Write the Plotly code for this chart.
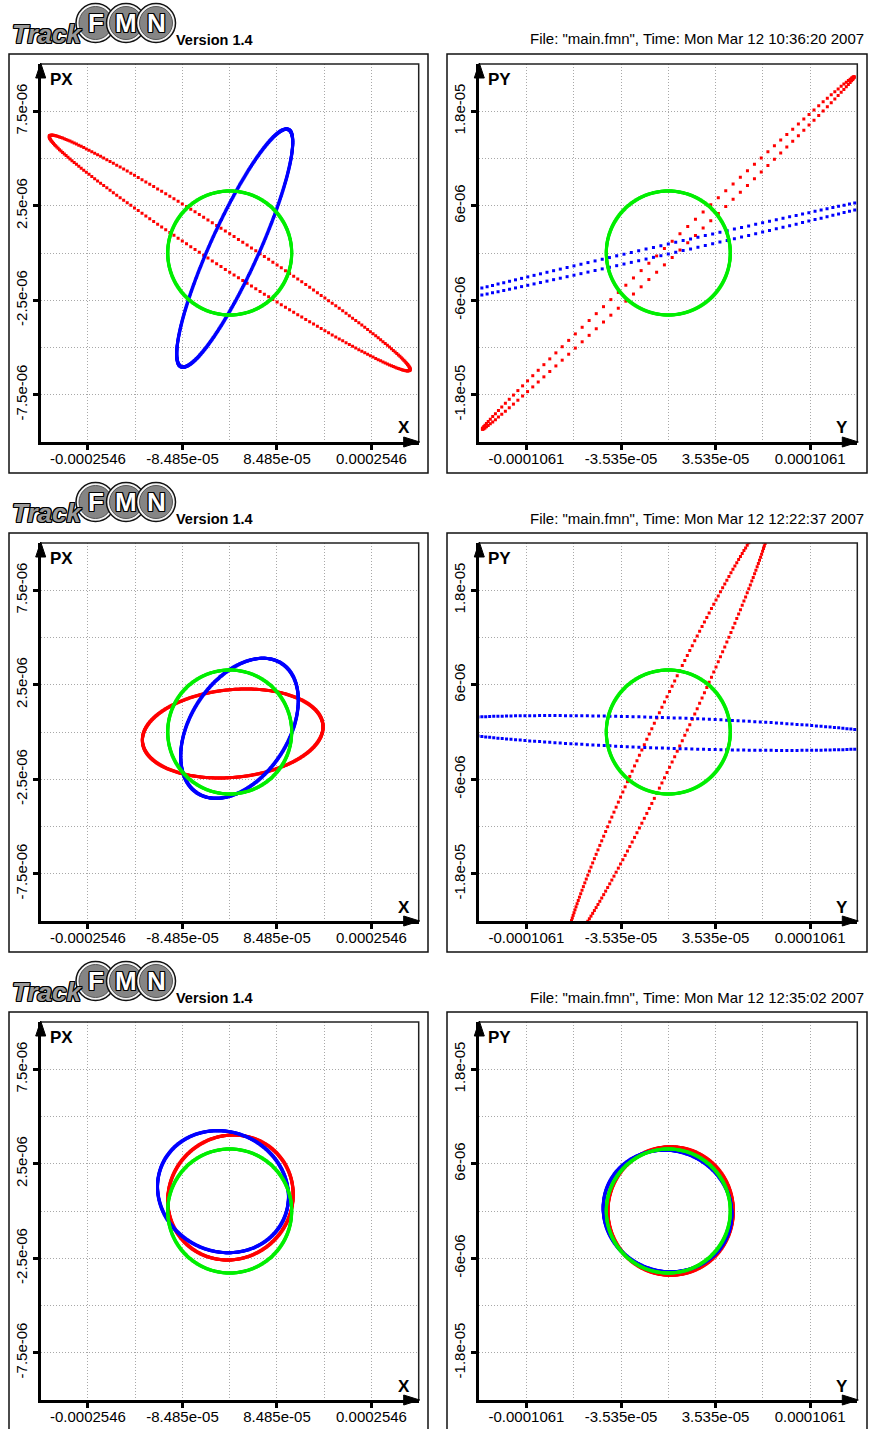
import numpy as np
import plotly.graph_objects as go

W, H = 871, 1429
ROW_PITCH = 479
FONT = "Liberation Sans, Arial, sans-serif"

# ---- header text -------------------------------------------------------
VERSION_TEXT = "Version 1.4"
FILE_NAME = "main.fmn"
RUN_TIMES = ["Mon Mar 12 10:36:20 2007",
             "Mon Mar 12 12:22:37 2007",
             "Mon Mar 12 12:35:02 2007"]

# ---- axes ----------------------------------------------------------------
X_TICK_VALS = [-0.0002546, -8.485e-05, 8.485e-05, 0.0002546]
X_TICK_TEXT = ["-0.0002546", "-8.485e-05", "8.485e-05", "0.0002546"]
PX_TICK_VALS = [-7.5e-06, -2.5e-06, 2.5e-06, 7.5e-06]
PX_TICK_TEXT = ["-7.5e-06", "-2.5e-06", "2.5e-06", "7.5e-06"]
Y_TICK_VALS = [-0.0001061, -3.535e-05, 3.535e-05, 0.0001061]
Y_TICK_TEXT = ["-0.0001061", "-3.535e-05", "3.535e-05", "0.0001061"]
PY_TICK_VALS = [-1.8e-05, -6e-06, 6e-06, 1.8e-05]
PY_TICK_TEXT = ["-1.8e-05", "-6e-06", "6e-06", "1.8e-05"]

X_STEP, PX_STEP = 8.485e-05, 2.5e-06
Y_STEP, PY_STEP = 3.535e-05, 6e-06
X_RANGE = [-3.394e-04, 3.394e-04]
PX_RANGE = [-1.0e-05, 1.0e-05]
Y_RANGE = [-1.414e-04, 1.414e-04]
PY_RANGE = [-2.4e-05, 2.4e-05]

# ---- phase-space ellipses, one entry per run --------------------------
# (centre x, centre p, half-width in x, p at the x extreme, half-height at x = 0)
X_RED = [(0.0, 0.0, 3.240e-04, -6.154e-06, 1.016e-06),
         (5.4e-06, -7.9e-08, 1.622e-04, 3.49e-07, 2.328e-06),
         (1.4e-06, 7.14e-07, 1.126e-04, 1.59e-07, 3.302e-06)]
X_BLUE = [(9.0e-06, 2.6e-07, 1.042e-04, 5.603e-06, 2.873e-06),
          (1.76e-05, 1.96e-07, 1.056e-04, 1.481e-06, 3.397e-06),
          (-1.203e-05, 1.021e-06, 1.176e-04, -2.65e-07, 3.217e-06)]
X_GREEN = [(0.0, 0.0, 1.113e-04, 0.0, 3.280e-06),
           (0.0, 0.0, 1.113e-04, 0.0, 3.280e-06),
           (0.0, 0.0, 1.113e-04, 0.0, 3.280e-06)]

Y_RED = [(0.0, 0.0, 1.391e-04, 2.235e-05, 1.04e-06),
         (0.0, 0.0, 7.586e-05, 2.658e-05, 4.813e-06),
         (1.72e-06, 0.0, 4.691e-05, 0.0, 8.152e-06)]
Y_BLUE = [(0.0, 5.1e-07, 1.945e-04, 7.54e-06, 6.35e-07),
          (0.0, -1.27e-07, 1.825e-04, -1.054e-06, 1.943e-06),
          (-6.0e-07, 0.0, 4.810e-05, -3.8e-07, 7.72e-06)]
Y_GREEN = [(0.0, 0.0, 4.638e-05, 0.0, 7.873e-06),
           (0.0, 0.0, 4.638e-05, 0.0, 7.873e-06),
           (0.0, 0.0, 4.638e-05, 0.0, 7.873e-06)]

# number of stored turns per ellipse (red, blue, green)
X_TURNS = [(260, 600, 520), (600, 600, 520), (600, 600, 520)]
Y_TURNS = [(150, 220, 520), (250, 260, 520), (600, 600, 520)]

RED, BLUE, GREEN = "#ff0000", "#0000ff", "#00ee00"
GRID = "#a8a8a8"


def ellipse_points(params, n):
    cx, cp, xh, pxh, p0 = params
    t = np.linspace(0.0, 2.0 * np.pi, n, endpoint=False)
    return cx + xh * np.cos(t), cp + pxh * np.cos(t) - p0 * np.sin(t)


def fx(px):
    return px / W


def fy(py):
    return 1.0 - py / H


fig = go.Figure()
layout = dict(width=W, height=H, margin=dict(l=0, r=0, t=0, b=0),
              paper_bgcolor="white", plot_bgcolor="white", showlegend=False)
shapes, annotations = [], []

# plot-area geometry in pixels
PLOT_LEFT = [(40.7, 418.7), (479.3, 857.3)]
PLOT_TOP, PLOT_BOTTOM = 64.0, 442.0
FRAME = [(9, 428), (447, 867)]
FRAME_TOP, FRAME_BOTTOM = 54, 473

panel_specs = [
    ("X", "PX", X_RED, X_BLUE, X_GREEN, X_TURNS,
     X_RANGE, PX_RANGE, X_TICK_VALS, X_TICK_TEXT, PX_TICK_VALS, PX_TICK_TEXT, X_STEP, PX_STEP),
    ("Y", "PY", Y_RED, Y_BLUE, Y_GREEN, Y_TURNS,
     Y_RANGE, PY_RANGE, Y_TICK_VALS, Y_TICK_TEXT, PY_TICK_VALS, PY_TICK_TEXT, Y_STEP, PY_STEP),
]


def axis(rng, tv, tt, step, domain, anchor, vertical):
    d = dict(domain=domain, range=rng, anchor=anchor, tickmode="array",
             tickvals=tv, ticktext=tt, showline=True, linewidth=3,
             linecolor="black", ticks="outside", ticklen=5, tickwidth=3,
             tickcolor="black", showgrid=True, gridcolor=GRID, griddash="1px,2px",
             gridwidth=1, zeroline=False, fixedrange=True,
             minor=dict(tickmode="linear", tick0=0, dtick=2 * step, ticks="",
                        showgrid=True, gridcolor=GRID, griddash="1px,2px", gridwidth=1),
             tickfont=dict(family=FONT, size=15, color="black"))
    if vertical:
        d["tickangle"] = -90
    else:
        d["ticklabelstandoff"] = -4
    return d


k = 0
for row in range(3):
    yoff = row * ROW_PITCH
    for col in range(2):
        (xname, pname, reds, blues, greens, turns, xr, pr,
         xtv, xtt, ptv, ptt, xstep, pstep) = panel_specs[col]
        k += 1
        sfx = "" if k == 1 else str(k)
        xa, ya = "x" + sfx, "y" + sfx
        x0, x1 = PLOT_LEFT[col]
        top, bot = PLOT_TOP + yoff, PLOT_BOTTOM + yoff

        for params, n, color in ((reds[row], turns[row][0], RED),
                                 (blues[row], turns[row][1], BLUE),
                                 (greens[row], turns[row][2], GREEN)):
            ex, ep = ellipse_points(params, n)
            fig.add_trace(go.Scatter(x=ex, y=ep, mode="markers", xaxis=xa, yaxis=ya,
                                     marker=dict(symbol="square", size=3, color=color,
                                                 line=dict(width=0)),
                                     hoverinfo="skip"))

        layout["xaxis" + sfx] = axis(xr, xtv, xtt, xstep, [fx(x0), fx(x1)], ya, False)
        layout["yaxis" + sfx] = axis(pr, ptv, ptt, pstep, [fy(bot), fy(top)], xa, True)

        # thin top/right border of the plot area
        shapes.append(dict(type="path", xref="paper", yref="paper",
                           path=f"M {fx(x0)},{fy(top)} L {fx(x1)},{fy(top)} L {fx(x1)},{fy(bot)}",
                           line=dict(color="#222222", width=1.5)))
        # arrow heads at the ends of both axes
        shapes.append(dict(type="path", xref="paper", yref="paper",
                           path=(f"M {fx(x1 + 1)},{fy(bot)} L {fx(x1 - 15)},{fy(bot - 5)} "
                                 f"L {fx(x1 - 15)},{fy(bot + 5)} Z"),
                           fillcolor="black", line=dict(color="black", width=1)))
        shapes.append(dict(type="path", xref="paper", yref="paper",
                           path=(f"M {fx(x0)},{fy(top - 1)} L {fx(x0 - 5)},{fy(top + 14)} "
                                 f"L {fx(x0 + 5)},{fy(top + 14)} Z"),
                           fillcolor="black", line=dict(color="black", width=1)))
        # outer frame of the panel
        fl, fr = FRAME[col]
        shapes.append(dict(type="rect", xref="paper", yref="paper",
                           x0=fx(fl), x1=fx(fr), y0=fy(FRAME_BOTTOM + yoff), y1=fy(FRAME_TOP + yoff),
                           line=dict(color="#111111", width=1.5), layer="below"))
        # axis names
        annotations.append(dict(text=f"<b>{pname}</b>", xref="paper", yref="paper",
                                x=fx(x0 + 7), y=fy(top + 15), xanchor="left", yanchor="middle",
                                showarrow=False, font=dict(family=FONT, size=17, color="black")))
        annotations.append(dict(text=f"<b>{xname}</b>", xref="paper", yref="paper",
                                x=fx(x1 - 7), y=fy(bot - 14), xanchor="right", yanchor="middle",
                                showarrow=False, font=dict(family=FONT, size=17, color="black")))

    # ---- header: logo, version and file/time line ----
    outline = ("1px 1px 0 #000, -1px -1px 0 #000, 1px -1px 0 #000, -1px 1px 0 #000, "
               "0 1px 0 #000, 0 -1px 0 #000, 1px 0 0 #000, -1px 0 0 #000")
    annotations.append(dict(text="<b><i>Track</i></b>", xref="paper", yref="paper",
                            x=fx(10), y=fy(34 + yoff), xanchor="left", yanchor="middle",
                            showarrow=False,
                            font=dict(family=FONT, size=26, color="#9a9a9a", shadow=outline)))
    for cx, letter in ((95.5, "F"), (126.0, "M"), (156.0, "N")):
        cy = 23 + yoff
        shapes.append(dict(type="circle", xref="paper", yref="paper",
                           x0=fx(cx - 19.5), x1=fx(cx + 19.5), y0=fy(cy + 19.5), y1=fy(cy - 19.5),
                           fillcolor="#f4f4f4", line=dict(color="#111111", width=1.5)))
        shapes.append(dict(type="circle", xref="paper", yref="paper",
                           x0=fx(cx - 16.5), x1=fx(cx + 16.5), y0=fy(cy + 16.5), y1=fy(cy - 16.5),
                           fillcolor="#858585", line=dict(color="#555555", width=1)))
        annotations.append(dict(text=f"<b>{letter}</b>", xref="paper", yref="paper",
                                x=fx(cx), y=fy(cy), xanchor="center", yanchor="middle",
                                showarrow=False,
                                font=dict(family=FONT, size=26, color="white", shadow=outline)))
    annotations.append(dict(text=f"<b>{VERSION_TEXT}</b>", xref="paper", yref="paper",
                            x=fx(174), y=fy(40 + yoff), xanchor="left", yanchor="middle",
                            showarrow=False, font=dict(family=FONT, size=14.5, color="black")))
    annotations.append(dict(text=f'File: "{FILE_NAME}", Time: {RUN_TIMES[row]}',
                            xref="paper", yref="paper", x=fx(866), y=fy(39 + yoff),
                            xanchor="right", yanchor="middle", showarrow=False,
                            font=dict(family=FONT, size=15, color="black")))

layout["shapes"] = shapes
layout["annotations"] = annotations
fig.update_layout(**layout)
fig.write_html("out.html")
